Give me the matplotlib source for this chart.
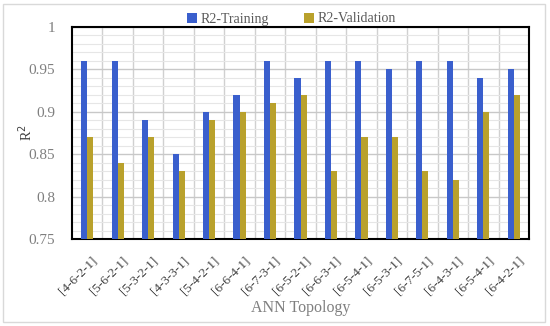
import numpy as np
import matplotlib
matplotlib.use("Agg")
import matplotlib.pyplot as plt
import matplotlib.transforms as mtransforms
from matplotlib.ticker import MultipleLocator

# ANN topologies and R2 scores
topologies = ["[4-6-2-1]", "[5-6-2-1]", "[5-3-2-1]", "[4-3-3-1]", "[5-4-2-1]",
              "[6-6-4-1]", "[6-7-3-1]", "[6-5-2-1]", "[6-6-3-1]", "[6-5-4-1]",
              "[6-5-3-1]", "[6-7-5-1]", "[6-4-3-1]", "[6-5-4-1]", "[6-4-2-1]"]
r2_training = [0.96, 0.96, 0.89, 0.85, 0.90, 0.92, 0.96, 0.94, 0.96, 0.96,
               0.95, 0.96, 0.96, 0.94, 0.95]
r2_validation = [0.87, 0.84, 0.87, 0.83, 0.89, 0.90, 0.91, 0.92, 0.83, 0.87,
                 0.87, 0.83, 0.82, 0.90, 0.92]

plt.rcParams['font.family'] = ['Liberation Serif', 'DejaVu Serif']
txtcol = '#7f7f7f'

fig = plt.figure(figsize=(5.5, 3.26), dpi=100)
ax = fig.add_axes([72/550, 1-239/326, (529-72)/550, (239-27)/326])

x = np.arange(len(topologies))
w = 0.2
ax.bar(x - w/2, r2_training, w, bottom=0, color='#3a5fcd', label='R2-Training', zorder=3)
ax.bar(x + w/2, r2_validation, w, bottom=0, color='#b9a12c', label='R2-Validation', zorder=3)

ax.set_ylim(0.75, 1.0)
ax.set_xlim(-0.5, len(topologies) - 0.5)
ax.yaxis.set_minor_locator(MultipleLocator(0.01))
ax.set_yticks([0.75, 0.8, 0.85, 0.9, 0.95, 1.0])
ax.set_yticklabels(["0.75", "0.8", "0.85", "0.9", "0.95", "1"])
ax.grid(True, which='major', axis='y', color='#c8c8c8', lw=1.0, zorder=0)
ax.grid(True, which='minor', axis='y', color='#e6e6e6', lw=0.8, zorder=0)
for b in np.arange(0.5, len(topologies) - 0.5, 1):
    ax.axvline(b, color='#d0d0d0', lw=1.0, zorder=0)

ax.set_xticks(x)
ax.set_xticklabels(topologies, rotation=45, ha='right', rotation_mode='anchor',
                   fontsize=9.5, color='#404040')
ax.tick_params(axis='x', length=0, pad=11)
shift = mtransforms.ScaledTranslation(4/100, 0, fig.dpi_scale_trans)
for lab in ax.get_xticklabels():
    lab.set_transform(lab.get_transform() + shift)
ax.tick_params(axis='y', which='both', length=0, labelsize=11, labelcolor=txtcol, pad=12)
for s in ax.spines.values():
    s.set_color('black')
    s.set_linewidth(1.5)

ax.set_xlabel("ANN Topology", fontsize=11.5, color=txtcol)
ax.xaxis.set_label_coords(0.5, -(308 - 239) / 212)
ax.xaxis.label.set_va('center')
ax.set_ylabel("R$^2$", fontsize=10, color='#404040')
ax.yaxis.set_label_coords(-(72 - 26) / 457, 0.5)
ax.yaxis.label.set_va('center')

fig.legend(loc='upper center', bbox_to_anchor=(0.53, 1.0), ncol=2, frameon=False,
           fontsize=10, labelcolor='#595959', handlelength=0.7, handleheight=0.7,
           columnspacing=2.5, handletextpad=0.3)

fig.patches.append(plt.Rectangle((3/550, 4/326), 542/550, 318/326, transform=fig.transFigure,
                                 fill=False, edgecolor='#d9d9d9', lw=1.0))

fig.savefig("out.png", dpi=100)
